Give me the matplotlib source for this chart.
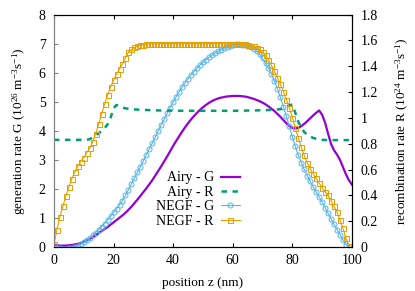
import numpy as np
import matplotlib
matplotlib.use("Agg")
import matplotlib.pyplot as plt

plt.rcParams['font.family'] = ['Liberation Serif', 'DejaVu Serif']
plt.rcParams['mathtext.default'] = 'regular'
plt.rcParams['font.size'] = 10

# position grid (nm)
z = np.arange(0, 101)
z_negf = np.arange(0, 100)

# Airy - G, left axis (1e26 m^-3 s^-1)
airy_g = [0.08, 0.06, 0.05, 0.05, 0.05, 0.06, 0.07, 0.09, 0.11, 0.14,
          0.18, 0.23, 0.28, 0.34, 0.41, 0.48, 0.55, 0.62, 0.69, 0.77,
          0.85, 0.93, 1.01, 1.09, 1.18, 1.28, 1.39, 1.51, 1.63, 1.76,
          1.89, 2.02, 2.16, 2.30, 2.46, 2.62, 2.78, 2.95, 3.12, 3.30,
          3.48, 3.65, 3.81, 3.97, 4.12, 4.26, 4.39, 4.51, 4.62, 4.72,
          4.81, 4.89, 4.96, 5.02, 5.07, 5.11, 5.14, 5.16, 5.18, 5.19,
          5.20, 5.20, 5.20, 5.19, 5.18, 5.16, 5.13, 5.10, 5.06, 5.02,
          4.97, 4.91, 4.84, 4.76, 4.68, 4.58, 4.48, 4.37, 4.26, 4.16,
          4.10, 4.08, 4.10, 4.16, 4.24, 4.33, 4.43, 4.53, 4.62, 4.70,
          4.55, 4.28, 3.90, 3.55, 3.33, 3.18, 3.00, 2.75, 2.50, 2.30,
          2.15]

# Airy - R, right axis (1e24 m^-3 s^-1)
airy_r = [0.830, 0.830, 0.830, 0.830, 0.830, 0.830, 0.830, 0.830, 0.830, 0.830,
          0.830, 0.830, 0.835, 0.850, 0.865, 0.880, 0.900, 0.920, 0.950, 1.000,
          1.075, 1.100, 1.090, 1.080, 1.074, 1.070, 1.068, 1.066, 1.064, 1.063,
          1.062, 1.061, 1.060, 1.059, 1.058, 1.058, 1.057, 1.057, 1.056, 1.056,
          1.056, 1.055, 1.055, 1.055, 1.055, 1.055, 1.055, 1.055, 1.055, 1.055,
          1.055, 1.055, 1.055, 1.055, 1.055, 1.055, 1.055, 1.055, 1.055, 1.055,
          1.055, 1.055, 1.056, 1.056, 1.056, 1.057, 1.057, 1.058, 1.058, 1.059,
          1.060, 1.060, 1.061, 1.062, 1.063, 1.065, 1.068, 1.072, 1.085, 1.098,
          1.103, 1.040, 0.970, 0.925, 0.890, 0.870, 0.856, 0.845, 0.838, 0.834,
          0.830, 0.829, 0.828, 0.828, 0.828, 0.828, 0.828, 0.828, 0.828, 0.828,
          0.828]

# NEGF - G, left axis
negf_g = [0.00, -0.02, -0.04, -0.05, -0.05, -0.04, -0.02, 0.01, 0.05, 0.10,
          0.16, 0.23, 0.31, 0.40, 0.50, 0.60, 0.70, 0.81, 0.93, 1.06,
          1.19, 1.32, 1.45, 1.60, 1.78, 1.97, 2.17, 2.37, 2.57, 2.77,
          2.97, 3.17, 3.37, 3.57, 3.78, 3.99, 4.20, 4.40, 4.60, 4.80,
          4.99, 5.17, 5.34, 5.50, 5.65, 5.79, 5.92, 6.04, 6.15, 6.26,
          6.36, 6.45, 6.53, 6.60, 6.67, 6.73, 6.79, 6.84, 6.88, 6.92,
          6.95, 6.97, 6.97, 6.96, 6.95, 6.92, 6.88, 6.82, 6.74, 6.63,
          6.49, 6.33, 6.15, 5.95, 5.71, 5.45, 5.15, 4.83, 4.50, 4.15,
          3.80, 3.47, 3.17, 2.90, 2.67, 2.46, 2.26, 2.07, 1.89, 1.72,
          1.55, 1.36, 1.16, 0.97, 0.78, 0.60, 0.43, 0.25, 0.08, 0.00]

# NEGF - R, right axis
negf_r = [0.020, 0.135, 0.236, 0.315, 0.394, 0.466, 0.529, 0.581, 0.626, 0.662,
          0.693, 0.729, 0.765, 0.815, 0.878, 0.950, 1.031, 1.107, 1.177, 1.238,
          1.292, 1.339, 1.377, 1.418, 1.467, 1.508, 1.530, 1.546, 1.557, 1.564,
          1.568, 1.571, 1.573, 1.575, 1.575, 1.575, 1.575, 1.575, 1.575, 1.575,
          1.575, 1.575, 1.575, 1.575, 1.575, 1.575, 1.575, 1.575, 1.575, 1.575,
          1.575, 1.575, 1.575, 1.575, 1.575, 1.575, 1.575, 1.575, 1.575, 1.575,
          1.575, 1.574, 1.573, 1.572, 1.570, 1.564, 1.559, 1.553, 1.541, 1.530,
          1.508, 1.485, 1.451, 1.406, 1.361, 1.312, 1.260, 1.204, 1.141, 1.076,
          1.001, 0.923, 0.844, 0.776, 0.709, 0.653, 0.608, 0.567, 0.531, 0.495,
          0.461, 0.428, 0.400, 0.360, 0.315, 0.270, 0.209, 0.146, 0.068, 0.011]

fig = plt.figure(figsize=(4.15, 2.91), dpi=100)
ax = fig.add_axes([0.130, 0.151, 0.718, 0.799])
ax2 = ax.twinx()

l1, = ax.plot(z, airy_g, color='#9400d3', lw=1.6, label='Airy - G')
l3, = ax.plot(z_negf, negf_g, color='#56b4e9', lw=0.8, marker='o', ms=3.6,
              mfc='none', mew=0.7, label='NEGF - G')
l2, = ax2.plot(z, airy_r, color='#009e73', lw=1.8, ls=(0, (2.2, 2.2)),
               label='Airy - R')
l4, = ax2.plot(z_negf, negf_r, color='#e69f00', lw=0.8, marker='s', ms=3.6,
               mfc='none', mew=0.7, label='NEGF - R')

ax.set_xlim(0, 100)
ax.set_ylim(0, 8)
ax2.set_ylim(0, 1.8)
ax.set_xticks([0, 20, 40, 60, 80, 100])
ax.set_yticks(range(0, 9))
ax2.set_yticks([0, 0.2, 0.4, 0.6, 0.8, 1, 1.2, 1.4, 1.6, 1.8])
ax2.set_yticklabels(['0', '0.2', '0.4', '0.6', '0.8', '1', '1.2', '1.4', '1.6', '1.8'])

ax.tick_params(axis='x', direction='in', top=True, length=3, width=0.8, pad=5)
ax.tick_params(axis='y', direction='in', length=3, width=0.8, pad=6, color='#808080')
ax2.tick_params(axis='y', direction='in', length=3, width=0.8, pad=6)

for a in (ax, ax2):
    for s in a.spines.values():
        s.set_linewidth(0.8)
ax2.spines['left'].set_color('#808080')
ax.spines['left'].set_color('#808080')

ax.set_xlabel('position z (nm)', fontsize=9.5, labelpad=7)
ax.set_ylabel('generation rate G (10$^{26}$ m$^{-3}$s$^{-1}$)', fontsize=9.5,
              labelpad=8)
ax2.set_ylabel('recombination rate R (10$^{24}$ m$^{-3}$s$^{-1}$)', fontsize=9.5,
               labelpad=12)

ax2.legend(handles=[l1, l2, l3, l4], loc='upper right',
           bbox_to_anchor=(0.625, 0.325), frameon=False, markerfirst=False,
           handlelength=1.4, handletextpad=0.5, labelspacing=0.1,
           borderpad=0, borderaxespad=0, numpoints=1)

fig.savefig('out.png', dpi=100)
